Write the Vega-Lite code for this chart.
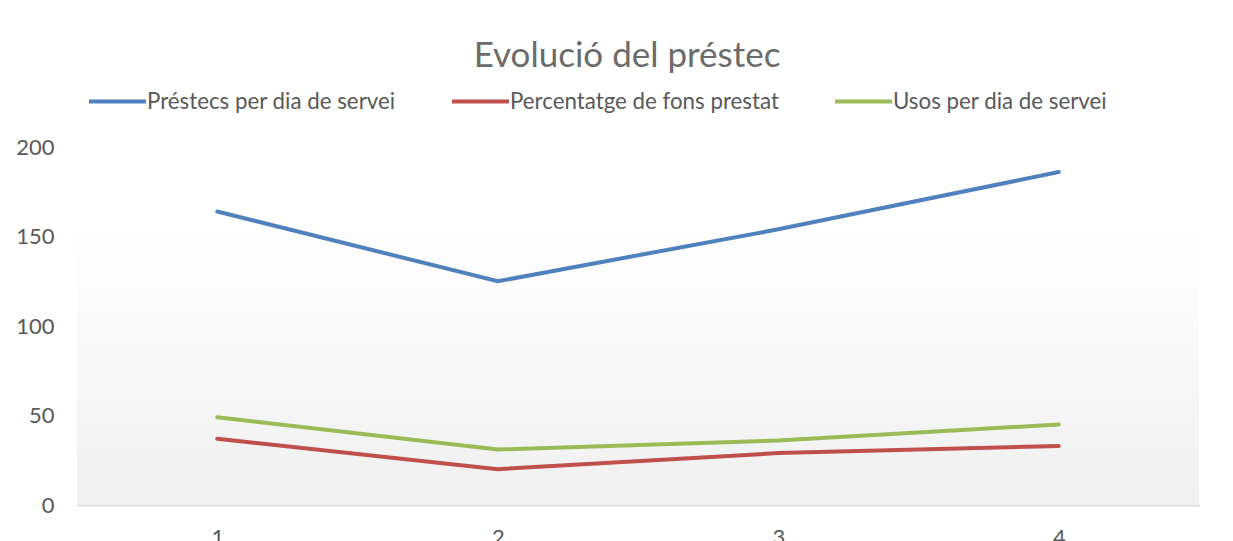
{
  "$schema": "https://vega.github.io/schema/vega-lite/v6.json",
  "width": 1122,
  "height": 358,
  "autosize": "none",
  "padding": {"left": 77, "top": 147, "right": 34, "bottom": 36},
  "background": "white",
  "config": {"view": {"stroke": null}, "font": "Lato"},
  "title": {"text": "Evolució del préstec", "fontSize": 35, "font": "Lato", "fontWeight": "normal", "color": "#6b6b6b", "anchor": "middle", "dx": -11, "dy": 7},
  "datasets": {
    "series": [
      {"periode": "1", "serie": "Préstecs per dia de servei", "valor": 164},
      {"periode": "2", "serie": "Préstecs per dia de servei", "valor": 125},
      {"periode": "3", "serie": "Préstecs per dia de servei", "valor": 154},
      {"periode": "4", "serie": "Préstecs per dia de servei", "valor": 186},
      {"periode": "1", "serie": "Percentatge de fons prestat", "valor": 37},
      {"periode": "2", "serie": "Percentatge de fons prestat", "valor": 20},
      {"periode": "3", "serie": "Percentatge de fons prestat", "valor": 29},
      {"periode": "4", "serie": "Percentatge de fons prestat", "valor": 33},
      {"periode": "1", "serie": "Usos per dia de servei", "valor": 49},
      {"periode": "2", "serie": "Usos per dia de servei", "valor": 31},
      {"periode": "3", "serie": "Usos per dia de servei", "valor": 36},
      {"periode": "4", "serie": "Usos per dia de servei", "valor": 45}
    ],
    "fons": [{"dalt": 155, "baix": 0}]
  },
  "layer": [
    {
      "data": {"name": "fons"},
      "mark": {"type": "rect", "fill": {"gradient": "linear", "x1": 0, "y1": 0, "x2": 0, "y2": 1, "stops": [{"offset": 0, "color": "#ffffff"}, {"offset": 1, "color": "#f0f0f0"}]}},
      "encoding": {
        "y": {"field": "dalt", "type": "quantitative", "scale": {"domain": [0, 200]}, "axis": {"values": [0, 50, 100, 150, 200], "grid": false, "domain": false, "ticks": false, "labelPadding": 23, "labelFontSize": 22, "labelColor": "#595959", "title": null}},
        "y2": {"field": "baix"}
      }
    },
    {
      "data": {"name": "series"},
      "mark": {"type": "line", "strokeWidth": 4, "strokeCap": "round"},
      "encoding": {
        "x": {"field": "periode", "type": "ordinal", "scale": {"type": "point", "padding": 0.5}, "axis": {"labelAngle": 0, "ticks": false, "domainColor": "#d9d9d9", "domainWidth": 2, "labelFontSize": 22, "labelColor": "#595959", "labelPadding": 22, "title": null}},
        "y": {"field": "valor", "type": "quantitative"},
        "color": {
          "field": "serie",
          "type": "nominal",
          "sort": null,
          "scale": {"domain": ["Préstecs per dia de servei", "Percentatge de fons prestat", "Usos per dia de servei"], "range": ["#4f81bd", "#c0504d", "#9bbb59"]},
          "legend": {"orient": "none", "legendX": 10, "legendY": -76, "direction": "horizontal", "title": null, "symbolType": "stroke", "symbolSize": 3249, "symbolStrokeWidth": 4, "labelOffset": -1, "columnPadding": 48, "labelFontSize": 22.3, "labelLimit": 0, "labelColor": "#595959", "labelFont": "Lato"}
        }
      }
    }
  ]
}
